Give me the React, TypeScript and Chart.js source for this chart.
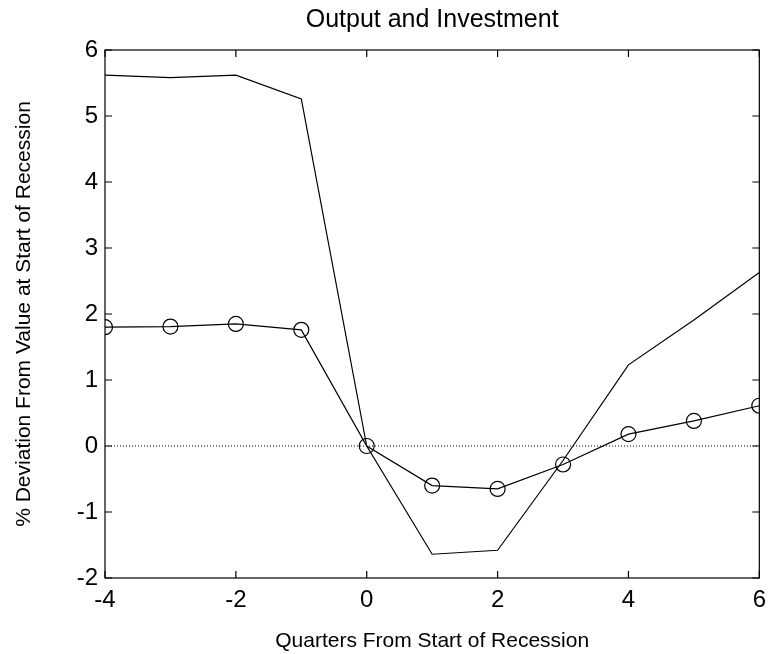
import React, { useEffect, useRef } from "react";
import { Chart, registerables } from "chart.js";

Chart.register(...registerables);

const quarters = [-4, -3, -2, -1, 0, 1, 2, 3, 4, 5, 6];
const investment = [5.62, 5.58, 5.62, 5.26, 0, -1.64, -1.58, -0.22, 1.23, 1.91, 2.63];
const output = [1.8, 1.81, 1.85, 1.76, 0, -0.6, -0.65, -0.28, 0.18, 0.38, 0.61];
const xTicks = [-4, -2, 0, 2, 4, 6];
const yTicks = [-2, -1, 0, 1, 2, 3, 4, 5, 6];

const FONT = "'Liberation Sans', Arial, sans-serif";

const boxTicks = {
  id: "boxTicks",
  afterDatasetsDraw(chart: any) {
    const { ctx, chartArea: a, scales } = chart;
    const xs = scales.x;
    const ys = scales.y;
    ctx.save();
    ctx.strokeStyle = "#000";
    ctx.lineWidth = 1.2;
    ctx.strokeRect(a.left, a.top, a.right - a.left, a.bottom - a.top);
    const L = 7;
    ctx.beginPath();
    xTicks.forEach((v) => {
      const px = xs.getPixelForValue(v);
      ctx.moveTo(px, a.bottom);
      ctx.lineTo(px, a.bottom - L);
      ctx.moveTo(px, a.top);
      ctx.lineTo(px, a.top + L);
    });
    yTicks.forEach((v) => {
      const py = ys.getPixelForValue(v);
      ctx.moveTo(a.left, py);
      ctx.lineTo(a.left + L, py);
      ctx.moveTo(a.right, py);
      ctx.lineTo(a.right - L, py);
    });
    ctx.stroke();
    ctx.restore();
  },
};

export default function App() {
  const ref = useRef<HTMLCanvasElement>(null);
  useEffect(() => {
    if (!ref.current) return;
    const chart = new Chart(ref.current, {
      type: "line",
      data: {
        datasets: [
          {
            label: "zero",
            data: [
              { x: -4, y: 0 },
              { x: 6, y: 0 },
            ],
            borderColor: "#000",
            borderWidth: 1,
            borderDash: [1, 2],
            pointRadius: 0,
          },
          {
            label: "Investment",
            data: quarters.map((q, i) => ({ x: q, y: investment[i] })),
            borderColor: "#000",
            borderWidth: 1.2,
            pointRadius: 0,
          },
          {
            label: "Output",
            data: quarters.map((q, i) => ({ x: q, y: output[i] })),
            borderColor: "#000",
            borderWidth: 1.2,
            pointRadius: 7.5,
            pointBorderWidth: 1.2,
            pointBackgroundColor: "rgba(0,0,0,0)",
            pointBorderColor: "#000",
          },
        ],
      },
      options: {
        animation: false,
        responsive: false,
        events: [],
        layout: { padding: { top: 0, right: 8, left: 0, bottom: 0 } },
        plugins: {
          legend: { display: false },
          tooltip: { enabled: false },
          title: {
            display: true,
            fullSize: false,
            text: "Output and Investment",
            color: "#000",
            font: { family: FONT, size: 25, weight: "normal" },
            padding: { top: 5, bottom: 15 },
          },
        },
        scales: {
          x: {
            type: "linear",
            min: -4,
            max: 6,
            afterBuildTicks(scale: any) {
              scale.ticks = xTicks.map((v) => ({ value: v }));
            },
            afterFit(scale: any) {
              scale.height = 76;
            },
            grid: { display: false, drawTicks: false },
            border: { display: false },
            ticks: {
              color: "#000",
              font: { family: FONT, size: 24 },
              padding: 8,
              maxRotation: 0,
              autoSkip: false,
            },
            title: {
              display: true,
              text: "Quarters From Start of Recession",
              color: "#000",
              font: { family: FONT, size: 21 },
              padding: { top: 0, bottom: 0 },
            },
          },
          y: {
            type: "linear",
            min: -2,
            max: 6,
            afterBuildTicks(scale: any) {
              scale.ticks = yTicks.map((v) => ({ value: v }));
            },
            afterFit(scale: any) {
              scale.width = 105;
            },
            grid: { display: false, drawTicks: false },
            border: { display: false },
            ticks: {
              color: "#000",
              font: { family: FONT, size: 24 },
              padding: 7,
              autoSkip: false,
            },
            title: {
              display: true,
              text: "% Deviation From Value at Start of Recession",
              color: "#000",
              font: { family: FONT, size: 21 },
              padding: { top: 12, bottom: 0 },
            },
          },
        },
      },
      plugins: [boxTicks],
    } as any);
    return () => chart.destroy();
  }, []);
  return (
    <div style={{ position: "absolute", left: 0, top: 0, width: 774, height: 654, background: "#fff" }}>
      <canvas ref={ref} width={774} height={654} style={{ width: 774, height: 654 }} />
    </div>
  );
}
